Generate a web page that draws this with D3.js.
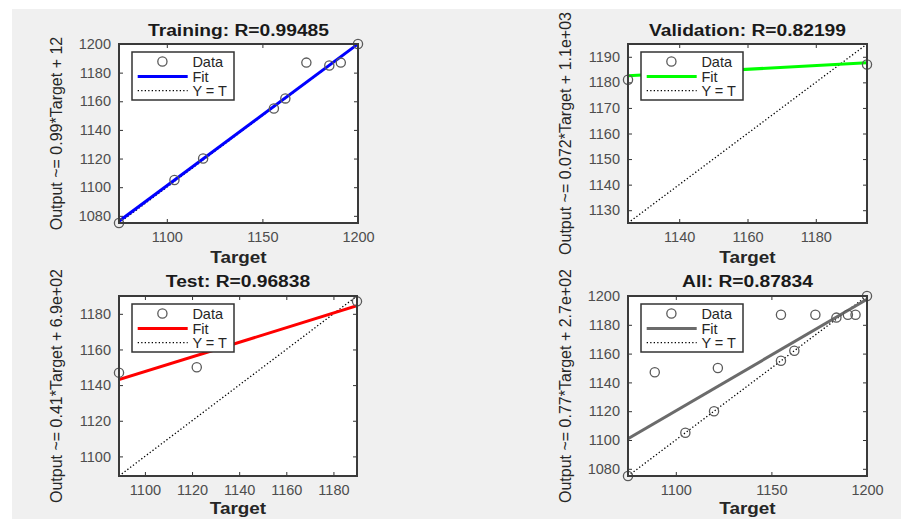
<!DOCTYPE html>
<html>
<head>
<meta charset="utf-8">
<script src="https://cdn.jsdelivr.net/npm/d3@7"></script>
<style>
  body { margin: 0; background: #ffffff; }
  svg { display: block; }
  text { font-family: "Liberation Sans", Arial, sans-serif; }
</style>
</head>
<body>
<script>
// ---------------- data ----------------
const panelTitles = ["Training: R=0.99485", "Validation: R=0.82199", "Test: R=0.96838", "All: R=0.87834"];
const yAxisLabels = [
  "Output ~= 0.99*Target + 12",
  "Output ~= 0.072*Target + 1.1e+03",
  "Output ~= 0.41*Target + 6.9e+02",
  "Output ~= 0.77*Target + 2.7e+02"
];
const xAxisLabel = "Target";
const legendLabels = ["Data", "Fit", "Y = T"];

const trainTarget = [1075, 1104, 1119, 1156, 1162, 1173, 1185, 1191, 1200];
const trainOutput = [1075, 1105, 1120, 1155, 1162, 1187, 1185, 1187, 1200];
const valTarget = [1125, 1195];
const valOutput = [1181, 1187];
const testTarget = [1089, 1122, 1190];
const testOutput = [1147, 1150, 1187];
const allTarget = [1075, 1089, 1105, 1120, 1122, 1155, 1155, 1162, 1173, 1184, 1190, 1194, 1200];
const allOutput = [1075, 1147, 1105, 1120, 1150, 1187, 1155, 1162, 1187, 1185, 1187, 1187, 1200];

const fitSlope = [0.99, 0.072, 0.41, 0.775];
const fitIntercept = [12, 1101.6, 696.6, 267.7];
const axisLimits = [[1075, 1200], [1125, 1195], [1089, 1190], [1075, 1200]];
const xTickValues = [[1100, 1150, 1200], [1140, 1160, 1180], [1100, 1120, 1140, 1160, 1180], [1100, 1150, 1200]];
const yTickValues = [
  [1080, 1100, 1120, 1140, 1160, 1180, 1200],
  [1130, 1140, 1150, 1160, 1170, 1180, 1190],
  [1100, 1120, 1140, 1160, 1180],
  [1080, 1100, 1120, 1140, 1160, 1180, 1200]
];

// ---------------- layout / style ----------------
const W = 901, H = 521;
const boxes = [
  { x: 119, y: 44, w: 239, h: 179, tickBase: 19.5, labelBase: 39.5, titleOff: 8 },
  { x: 628, y: 44, w: 239, h: 179, tickBase: 19.5, labelBase: 39.5, titleOff: 8 },
  { x: 119, y: 296, w: 238, h: 180, tickBase: 19, labelBase: 37.5, titleOff: 9 },
  { x: 628, y: 296, w: 239, h: 180, tickBase: 19, labelBase: 37.5, titleOff: 9 }
];
const fitColors = ["#0000ff", "#00ff00", "#ff0000", "#6b6b6b"];
const seriesT = [trainTarget, valTarget, testTarget, allTarget];
const seriesO = [trainOutput, valOutput, testOutput, allOutput];

const svg = d3.select("body").append("svg").attr("width", W).attr("height", H);
const defs = svg.append("defs");
defs.append("clipPath").attr("id", "figclip")
  .append("rect").attr("x", 12).attr("y", 9).attr("width", W - 12).attr("height", 510);

const fig = svg.append("g").attr("clip-path", "url(#figclip)");
fig.append("rect").attr("x", 12).attr("y", 9).attr("width", W - 12).attr("height", 510).attr("fill", "#f0f0f0");

function stretch(sel, f) {
  const n = sel.node();
  const L = n.getComputedTextLength();
  sel.attr("textLength", L * f).attr("lengthAdjust", "spacingAndGlyphs");
}

panelTitles.forEach((title, i) => {
  const b = boxes[i];
  const lim = axisLimits[i];
  const x = d3.scaleLinear().domain(lim).range([b.x, b.x + b.w]);
  const y = d3.scaleLinear().domain(lim).range([b.y + b.h, b.y]);
  const g = fig.append("g");

  defs.append("clipPath").attr("id", "clip" + i)
    .append("rect").attr("x", b.x).attr("y", b.y).attr("width", b.w).attr("height", b.h);

  // plot area
  g.append("rect").attr("x", b.x).attr("y", b.y).attr("width", b.w).attr("height", b.h).attr("fill", "#ffffff");

  // axes (ticks inward)
  const fs = "14.5px";
  const ax = g.append("g").attr("transform", `translate(0,${b.y + b.h})`)
    .call(d3.axisBottom(x).tickValues(xTickValues[i]).tickSize(-4).tickPadding(b.tickBase - 10.3).tickFormat(d3.format("d")));
  const axT = g.append("g").attr("transform", `translate(0,${b.y})`)
    .call(d3.axisTop(x).tickValues(xTickValues[i]).tickSize(-4).tickFormat(""));
  const ay = g.append("g").attr("transform", `translate(${b.x},0)`)
    .call(d3.axisLeft(y).tickValues(yTickValues[i]).tickSize(-4).tickPadding(8).tickFormat(d3.format("d")));
  const ayR = g.append("g").attr("transform", `translate(${b.x + b.w},0)`)
    .call(d3.axisRight(y).tickValues(yTickValues[i]).tickSize(-4).tickFormat(""));
  [ax, axT, ay, ayR].forEach(a => {
    a.select(".domain").remove();
    a.selectAll(".tick line").attr("stroke", "#333").attr("stroke-width", 1);
    a.selectAll(".tick text").attr("fill", "#4d4d4d").style("font-size", fs)
      .style("font-family", '"Liberation Sans", Arial, sans-serif');
  });

  const clipG = g.append("g").attr("clip-path", `url(#clip${i})`);
  // Y = T line
  clipG.append("line")
    .attr("x1", x(lim[0])).attr("y1", y(lim[0])).attr("x2", x(lim[1])).attr("y2", y(lim[1]))
    .attr("stroke", "#000").attr("stroke-width", 1.3).attr("stroke-dasharray", "1.3,2.2");
  // Fit line
  const fitY = t => fitSlope[i] * t + fitIntercept[i];
  clipG.append("line")
    .attr("x1", x(lim[0])).attr("y1", y(fitY(lim[0]))).attr("x2", x(lim[1])).attr("y2", y(fitY(lim[1])))
    .attr("stroke", fitColors[i]).attr("stroke-width", 3);

  // data circles
  g.append("g").selectAll("circle").data(seriesT[i].map((t, k) => [t, seriesO[i][k]]))
    .join("circle")
    .attr("cx", d => x(d[0])).attr("cy", d => y(d[1])).attr("r", 4.6)
    .attr("fill", "none").attr("stroke", "#5a5a5a").attr("stroke-width", 1.3);

  // frame
  g.append("rect").attr("x", b.x).attr("y", b.y).attr("width", b.w).attr("height", b.h)
    .attr("fill", "none").attr("stroke", "#3a3a3a").attr("stroke-width", 2);

  // title
  const t = g.append("text").attr("x", b.x + b.w / 2).attr("y", b.y - b.titleOff)
    .attr("text-anchor", "middle").attr("font-weight", "bold").style("font-size", "16px")
    .attr("fill", "#1a1a1a").text(title);
  stretch(t, 1.2);

  // x label
  const xl = g.append("text").attr("x", b.x + b.w / 2).attr("y", b.y + b.h + b.labelBase)
    .attr("text-anchor", "middle").attr("font-weight", "bold").style("font-size", "16px")
    .attr("fill", "#262626").text(xAxisLabel);
  stretch(xl, 1.18);

  // y label
  g.append("text")
    .attr("transform", `translate(${b.x - 57.5},${b.y + b.h / 2}) rotate(-90)`)
    .attr("text-anchor", "middle").style("font-size", "16px").attr("fill", "#262626")
    .text(yAxisLabels[i]);

  // legend
  const lx = b.x + 13, ly = b.y + 8;
  const lg = g.append("g");
  lg.append("rect").attr("x", lx).attr("y", ly).attr("width", 102).attr("height", 48)
    .attr("fill", "#ffffff").attr("stroke", "#333").attr("stroke-width", 1.5);
  const rows = [9.5, 24.5, 38.7];
  lg.append("circle").attr("cx", lx + 30.4).attr("cy", ly + rows[0]).attr("r", 4.6)
    .attr("fill", "none").attr("stroke", "#5a5a5a").attr("stroke-width", 1.3);
  lg.append("line").attr("x1", lx + 5.7).attr("x2", lx + 55.7).attr("y1", ly + rows[1]).attr("y2", ly + rows[1])
    .attr("stroke", fitColors[i]).attr("stroke-width", 3);
  lg.append("line").attr("x1", lx + 5.7).attr("x2", lx + 55.7).attr("y1", ly + rows[2]).attr("y2", ly + rows[2])
    .attr("stroke", "#000").attr("stroke-width", 1.3).attr("stroke-dasharray", "1.3,2.2");
  legendLabels.forEach((lab, k) => {
    lg.append("text").attr("x", lx + 60.4).attr("y", ly + rows[k] + 5.2)
      .style("font-size", "14.5px").attr("fill", "#262626").text(lab);
  });
});
</script>
</body>
</html>
